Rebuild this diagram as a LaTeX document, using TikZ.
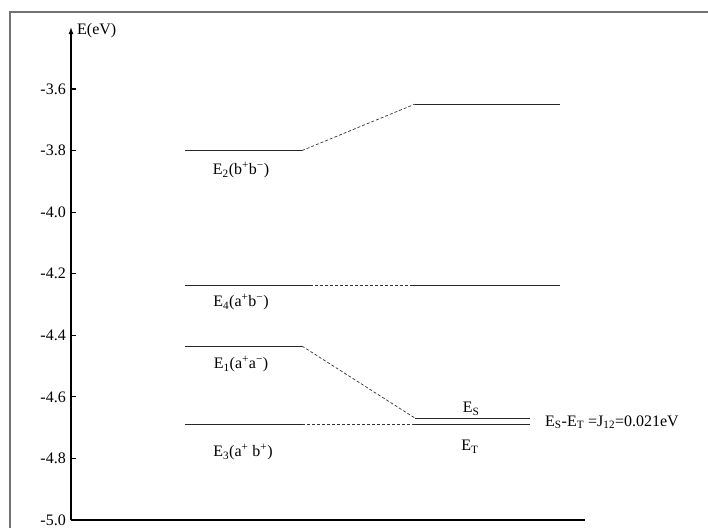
\documentclass[tikz,border=0pt]{standalone}
\usepackage{fontspec}
\setmainfont{Liberation Serif}
\usetikzlibrary{arrows.meta,positioning}

\tikzset{
  level/.style={line width=1.1pt, black!85},
  link/.style={line width=0.7pt, black!80, dash pattern=on 3pt off 2pt},
  axis/.style={line width=1.1pt, black},
  frame/.style={line width=1.6pt, black!55},
  lab/.style={font=\fontsize{16}{18}\selectfont, inner sep=0pt}
}

\begin{document}
\begin{tikzpicture}[x=1pt, y=307.86pt]
  \useasboundingbox (0,-5.026) rectangle (708,-3.311);

  % frame (only left and top edges are in view)
  \draw[frame] (10,-5.2) |- (720,-3.350);

  % axes
  \coordinate (org) at (71,-5.0);
  \coordinate (ytop) at (71,-3.399);
  \coordinate (xend) at (585,-5.0);
  \draw[axis, -{Latex[length=7pt,width=5pt]}] (org) -- (ytop);
  \draw[axis] (org) -- (xend);
  \node[lab, anchor=west] (ylab) at (77,-3.412) {E(eV)};

  % ticks
  \foreach \e/\t in {-3.6/3.6,-3.8/3.8,-4.0/4.0,-4.2/4.2,-4.4/4.4,-4.6/4.6,-4.8/4.8} {
    \draw[axis] (71,\e) -- (76,\e);
    \node[lab, anchor=east] at (66,\e) {-\t};
  }
  \node[lab, anchor=east] (tfive) at (66,-5.0) {-5.0};

  % left levels
  \coordinate (e2a) at (185,-3.8);    \coordinate (e2b) at (302,-3.8);
  \coordinate (e4a) at (185,-4.239);  \coordinate (e4b) at (310,-4.239);
  \coordinate (e1a) at (185,-4.435);  \coordinate (e1b) at (302,-4.435);
  \coordinate (e3a) at (185,-4.690);  \coordinate (e3b) at (302,-4.690);

  % right levels
  \coordinate (upa) at (415,-3.649);  \coordinate (upb) at (560,-3.649);
  \coordinate (mda) at (411,-4.239);  \coordinate (mdb) at (560,-4.239);
  \coordinate (esa) at (415,-4.669);  \coordinate (esb) at (530,-4.669);
  \coordinate (eta) at (415,-4.690);  \coordinate (etb) at (530,-4.690);

  \draw[level] (e2a) -- (e2b);
  \draw[level] (e4a) -- (e4b);
  \draw[level] (e1a) -- (e1b);
  \draw[level] (e3a) -- (e3b);
  \draw[level] (upa) -- (upb);
  \draw[level] (mda) -- (mdb);
  \draw[level] (esa) -- (esb);
  \draw[level] (eta) -- (etb);

  % correlation lines
  \draw[link] (e2b) -- (upa);
  \draw[link] (e4b) -- (mda);
  \draw[link] (e1b) -- (esa);
  \draw[link] (e3b) -- (eta);

  % labels
  \node[lab] (l2) at (241,-3.863) {E\textsubscript{2}(b\textsuperscript{+}b\textsuperscript{−})};
  \node[lab] (l4) at (241,-4.292) {E\textsubscript{4}(a\textsuperscript{+}b\textsuperscript{−})};
  \node[lab] (l1) at (241,-4.493) {E\textsubscript{1}(a\textsuperscript{+}a\textsuperscript{−})};
  \node[lab] (l3) at (243,-4.779) {E\textsubscript{3}(a\textsuperscript{+} b\textsuperscript{+})};
  \node[lab] (ls) at (471,-4.639) {E\textsubscript{S}};
  \node[lab] (lt) at (470,-4.763) {E\textsubscript{T}};
  \node[lab, anchor=west] (lj) at (545,-4.682)
    {E\textsubscript{S}-E\textsubscript{T} =J\textsubscript{12}=0.021eV};
\end{tikzpicture}
\end{document}
